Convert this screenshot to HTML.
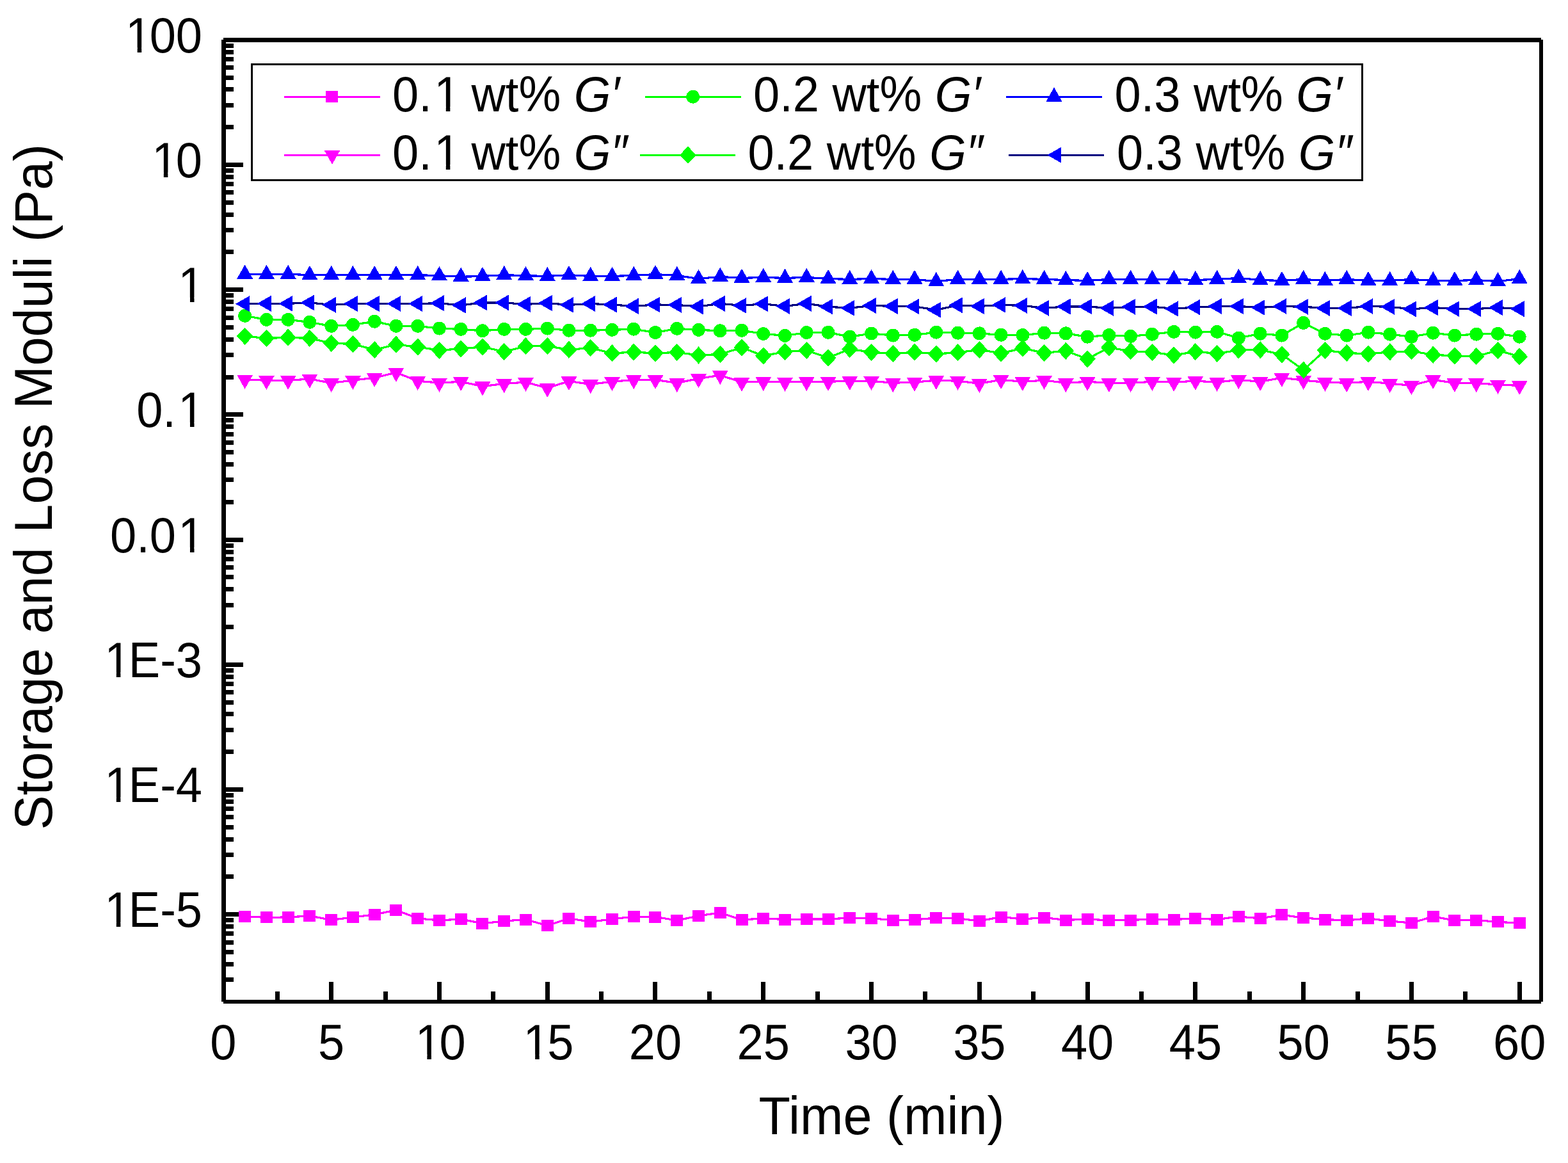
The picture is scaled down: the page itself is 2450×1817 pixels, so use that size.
<!DOCTYPE html>
<html><head><meta charset="utf-8"><title>Storage and Loss Moduli vs Time</title>
<style>html,body{margin:0;padding:0;background:#fff;}svg{display:block;}</style>
</head><body>
<svg width="2450" height="1817" viewBox="0 0 2450 1817">
<rect width="2450" height="1817" fill="#ffffff"/>
<g fill="#000" shape-rendering="crispEdges">
<rect x="346" y="62" width="7" height="1503"/>
<rect x="2405" y="62" width="6" height="1503"/>
<rect x="349" y="59" width="2059" height="7"/>
<rect x="349" y="1562" width="2059" height="6"/>
<rect x="353" y="1527.27" width="12" height="7"/>
<rect x="353" y="1502.88" width="12" height="7"/>
<rect x="353" y="1483.96" width="12" height="7"/>
<rect x="353" y="1468.50" width="12" height="7"/>
<rect x="353" y="1455.44" width="12" height="7"/>
<rect x="353" y="1444.12" width="12" height="7"/>
<rect x="353" y="1434.13" width="12" height="7"/>
<rect x="353" y="1425.20" width="27" height="7"/>
<rect x="353" y="1366.44" width="12" height="7"/>
<rect x="353" y="1332.07" width="12" height="7"/>
<rect x="353" y="1307.68" width="12" height="7"/>
<rect x="353" y="1288.76" width="12" height="7"/>
<rect x="353" y="1273.30" width="12" height="7"/>
<rect x="353" y="1260.24" width="12" height="7"/>
<rect x="353" y="1248.92" width="12" height="7"/>
<rect x="353" y="1238.93" width="12" height="7"/>
<rect x="353" y="1230.00" width="27" height="7"/>
<rect x="353" y="1171.24" width="12" height="7"/>
<rect x="353" y="1136.87" width="12" height="7"/>
<rect x="353" y="1112.48" width="12" height="7"/>
<rect x="353" y="1093.56" width="12" height="7"/>
<rect x="353" y="1078.10" width="12" height="7"/>
<rect x="353" y="1065.04" width="12" height="7"/>
<rect x="353" y="1053.72" width="12" height="7"/>
<rect x="353" y="1043.73" width="12" height="7"/>
<rect x="353" y="1034.80" width="27" height="7"/>
<rect x="353" y="976.04" width="12" height="7"/>
<rect x="353" y="941.67" width="12" height="7"/>
<rect x="353" y="917.28" width="12" height="7"/>
<rect x="353" y="898.36" width="12" height="7"/>
<rect x="353" y="882.90" width="12" height="7"/>
<rect x="353" y="869.84" width="12" height="7"/>
<rect x="353" y="858.52" width="12" height="7"/>
<rect x="353" y="848.53" width="12" height="7"/>
<rect x="353" y="839.60" width="27" height="7"/>
<rect x="353" y="780.84" width="12" height="7"/>
<rect x="353" y="746.47" width="12" height="7"/>
<rect x="353" y="722.08" width="12" height="7"/>
<rect x="353" y="703.16" width="12" height="7"/>
<rect x="353" y="687.70" width="12" height="7"/>
<rect x="353" y="674.64" width="12" height="7"/>
<rect x="353" y="663.32" width="12" height="7"/>
<rect x="353" y="653.33" width="12" height="7"/>
<rect x="353" y="644.40" width="27" height="7"/>
<rect x="353" y="585.64" width="12" height="7"/>
<rect x="353" y="551.27" width="12" height="7"/>
<rect x="353" y="526.88" width="12" height="7"/>
<rect x="353" y="507.96" width="12" height="7"/>
<rect x="353" y="492.50" width="12" height="7"/>
<rect x="353" y="479.44" width="12" height="7"/>
<rect x="353" y="468.12" width="12" height="7"/>
<rect x="353" y="458.13" width="12" height="7"/>
<rect x="353" y="449.20" width="27" height="7"/>
<rect x="353" y="390.44" width="12" height="7"/>
<rect x="353" y="356.07" width="12" height="7"/>
<rect x="353" y="331.68" width="12" height="7"/>
<rect x="353" y="312.76" width="12" height="7"/>
<rect x="353" y="297.30" width="12" height="7"/>
<rect x="353" y="284.24" width="12" height="7"/>
<rect x="353" y="272.92" width="12" height="7"/>
<rect x="353" y="262.93" width="12" height="7"/>
<rect x="353" y="254.00" width="27" height="7"/>
<rect x="353" y="195.24" width="12" height="7"/>
<rect x="353" y="160.87" width="12" height="7"/>
<rect x="353" y="136.48" width="12" height="7"/>
<rect x="353" y="117.56" width="12" height="7"/>
<rect x="353" y="102.10" width="12" height="7"/>
<rect x="353" y="89.04" width="12" height="7"/>
<rect x="353" y="77.72" width="12" height="7"/>
<rect x="353" y="67.73" width="12" height="7"/>
<rect x="353" y="58.80" width="27" height="7"/>
<rect x="429.78" y="1549" width="7" height="13"/>
<rect x="514.16" y="1534" width="7" height="28"/>
<rect x="598.55" y="1549" width="7" height="13"/>
<rect x="682.94" y="1534" width="7" height="28"/>
<rect x="767.33" y="1549" width="7" height="13"/>
<rect x="851.72" y="1534" width="7" height="28"/>
<rect x="936.10" y="1549" width="7" height="13"/>
<rect x="1020.49" y="1534" width="7" height="28"/>
<rect x="1104.88" y="1549" width="7" height="13"/>
<rect x="1189.27" y="1534" width="7" height="28"/>
<rect x="1273.66" y="1549" width="7" height="13"/>
<rect x="1358.05" y="1534" width="7" height="28"/>
<rect x="1442.43" y="1549" width="7" height="13"/>
<rect x="1526.82" y="1534" width="7" height="28"/>
<rect x="1611.21" y="1549" width="7" height="13"/>
<rect x="1695.60" y="1534" width="7" height="28"/>
<rect x="1779.99" y="1549" width="7" height="13"/>
<rect x="1864.38" y="1534" width="7" height="28"/>
<rect x="1948.76" y="1549" width="7" height="13"/>
<rect x="2033.15" y="1534" width="7" height="28"/>
<rect x="2117.54" y="1549" width="7" height="13"/>
<rect x="2201.93" y="1534" width="7" height="28"/>
<rect x="2286.32" y="1549" width="7" height="13"/>
<rect x="2370.70" y="1534" width="7" height="28"/>
</g>
<g shape-rendering="crispEdges">
<polyline points="382.64,1432.00 416.40,1433.30 450.15,1433.00 483.91,1430.90 517.66,1437.30 551.42,1433.00 585.17,1428.90 618.93,1421.80 652.68,1434.80 686.44,1438.00 720.20,1436.00 753.95,1442.80 787.71,1439.00 821.46,1436.50 855.22,1446.10 888.97,1434.90 922.73,1440.10 956.48,1436.00 990.24,1432.00 1023.99,1432.50 1057.75,1438.00 1091.50,1430.90 1125.26,1425.90 1159.01,1437.00 1192.77,1434.90 1226.52,1436.50 1260.28,1436.00 1294.04,1436.00 1327.79,1434.00 1361.55,1434.90 1395.30,1437.50 1429.06,1437.00 1462.81,1434.00 1496.57,1434.90 1530.32,1439.00 1564.08,1432.50 1597.83,1436.00 1631.59,1433.50 1665.34,1437.50 1699.10,1436.00 1732.85,1438.00 1766.61,1437.50 1800.36,1436.00 1834.12,1436.50 1867.88,1434.90 1901.63,1436.50 1935.39,1432.00 1969.14,1434.90 2002.90,1429.40 2036.65,1434.00 2070.41,1436.50 2104.16,1438.00 2137.92,1434.90 2171.67,1439.00 2205.43,1442.00 2239.18,1432.00 2272.94,1438.00 2306.69,1437.50 2340.45,1440.40 2374.20,1442.00" fill="none" stroke="#ff00ff" stroke-width="3.2" stroke-linejoin="miter"/>
<rect x="373.14" y="1423.00" width="19" height="18" fill="#ff00ff"/>
<rect x="406.90" y="1424.30" width="19" height="18" fill="#ff00ff"/>
<rect x="440.65" y="1424.00" width="19" height="18" fill="#ff00ff"/>
<rect x="474.41" y="1421.90" width="19" height="18" fill="#ff00ff"/>
<rect x="508.16" y="1428.30" width="19" height="18" fill="#ff00ff"/>
<rect x="541.92" y="1424.00" width="19" height="18" fill="#ff00ff"/>
<rect x="575.67" y="1419.90" width="19" height="18" fill="#ff00ff"/>
<rect x="609.43" y="1412.80" width="19" height="18" fill="#ff00ff"/>
<rect x="643.18" y="1425.80" width="19" height="18" fill="#ff00ff"/>
<rect x="676.94" y="1429.00" width="19" height="18" fill="#ff00ff"/>
<rect x="710.70" y="1427.00" width="19" height="18" fill="#ff00ff"/>
<rect x="744.45" y="1433.80" width="19" height="18" fill="#ff00ff"/>
<rect x="778.21" y="1430.00" width="19" height="18" fill="#ff00ff"/>
<rect x="811.96" y="1427.50" width="19" height="18" fill="#ff00ff"/>
<rect x="845.72" y="1437.10" width="19" height="18" fill="#ff00ff"/>
<rect x="879.47" y="1425.90" width="19" height="18" fill="#ff00ff"/>
<rect x="913.23" y="1431.10" width="19" height="18" fill="#ff00ff"/>
<rect x="946.98" y="1427.00" width="19" height="18" fill="#ff00ff"/>
<rect x="980.74" y="1423.00" width="19" height="18" fill="#ff00ff"/>
<rect x="1014.49" y="1423.50" width="19" height="18" fill="#ff00ff"/>
<rect x="1048.25" y="1429.00" width="19" height="18" fill="#ff00ff"/>
<rect x="1082.00" y="1421.90" width="19" height="18" fill="#ff00ff"/>
<rect x="1115.76" y="1416.90" width="19" height="18" fill="#ff00ff"/>
<rect x="1149.51" y="1428.00" width="19" height="18" fill="#ff00ff"/>
<rect x="1183.27" y="1425.90" width="19" height="18" fill="#ff00ff"/>
<rect x="1217.02" y="1427.50" width="19" height="18" fill="#ff00ff"/>
<rect x="1250.78" y="1427.00" width="19" height="18" fill="#ff00ff"/>
<rect x="1284.54" y="1427.00" width="19" height="18" fill="#ff00ff"/>
<rect x="1318.29" y="1425.00" width="19" height="18" fill="#ff00ff"/>
<rect x="1352.05" y="1425.90" width="19" height="18" fill="#ff00ff"/>
<rect x="1385.80" y="1428.50" width="19" height="18" fill="#ff00ff"/>
<rect x="1419.56" y="1428.00" width="19" height="18" fill="#ff00ff"/>
<rect x="1453.31" y="1425.00" width="19" height="18" fill="#ff00ff"/>
<rect x="1487.07" y="1425.90" width="19" height="18" fill="#ff00ff"/>
<rect x="1520.82" y="1430.00" width="19" height="18" fill="#ff00ff"/>
<rect x="1554.58" y="1423.50" width="19" height="18" fill="#ff00ff"/>
<rect x="1588.33" y="1427.00" width="19" height="18" fill="#ff00ff"/>
<rect x="1622.09" y="1424.50" width="19" height="18" fill="#ff00ff"/>
<rect x="1655.84" y="1428.50" width="19" height="18" fill="#ff00ff"/>
<rect x="1689.60" y="1427.00" width="19" height="18" fill="#ff00ff"/>
<rect x="1723.35" y="1429.00" width="19" height="18" fill="#ff00ff"/>
<rect x="1757.11" y="1428.50" width="19" height="18" fill="#ff00ff"/>
<rect x="1790.86" y="1427.00" width="19" height="18" fill="#ff00ff"/>
<rect x="1824.62" y="1427.50" width="19" height="18" fill="#ff00ff"/>
<rect x="1858.38" y="1425.90" width="19" height="18" fill="#ff00ff"/>
<rect x="1892.13" y="1427.50" width="19" height="18" fill="#ff00ff"/>
<rect x="1925.89" y="1423.00" width="19" height="18" fill="#ff00ff"/>
<rect x="1959.64" y="1425.90" width="19" height="18" fill="#ff00ff"/>
<rect x="1993.40" y="1420.40" width="19" height="18" fill="#ff00ff"/>
<rect x="2027.15" y="1425.00" width="19" height="18" fill="#ff00ff"/>
<rect x="2060.91" y="1427.50" width="19" height="18" fill="#ff00ff"/>
<rect x="2094.66" y="1429.00" width="19" height="18" fill="#ff00ff"/>
<rect x="2128.42" y="1425.90" width="19" height="18" fill="#ff00ff"/>
<rect x="2162.17" y="1430.00" width="19" height="18" fill="#ff00ff"/>
<rect x="2195.93" y="1433.00" width="19" height="18" fill="#ff00ff"/>
<rect x="2229.68" y="1423.00" width="19" height="18" fill="#ff00ff"/>
<rect x="2263.44" y="1429.00" width="19" height="18" fill="#ff00ff"/>
<rect x="2297.19" y="1428.50" width="19" height="18" fill="#ff00ff"/>
<rect x="2330.95" y="1431.40" width="19" height="18" fill="#ff00ff"/>
<rect x="2364.70" y="1433.00" width="19" height="18" fill="#ff00ff"/>
<polyline points="382.64,593.10 416.40,594.20 450.15,594.20 483.91,592.10 517.66,598.30 551.42,594.20 585.17,590.20 618.93,582.10 652.68,595.20 686.44,598.10 720.20,596.30 753.95,603.60 787.71,599.50 821.46,597.10 855.22,606.30 888.97,595.50 922.73,600.40 956.48,596.30 990.24,593.40 1023.99,593.40 1057.75,598.30 1091.50,591.50 1125.26,586.30 1159.01,597.10 1192.77,596.30 1226.52,597.10 1260.28,596.30 1294.04,596.30 1327.79,595.20 1361.55,595.20 1395.30,598.30 1429.06,597.10 1462.81,594.20 1496.57,595.20 1530.32,599.20 1564.08,593.40 1597.83,596.30 1631.59,594.20 1665.34,598.30 1699.10,596.30 1732.85,598.30 1766.61,598.30 1800.36,596.30 1834.12,597.10 1867.88,595.20 1901.63,597.10 1935.39,593.40 1969.14,596.30 2002.90,590.20 2036.65,594.20 2070.41,597.10 2104.16,598.30 2137.92,596.30 2171.67,599.20 2205.43,602.30 2239.18,593.40 2272.94,598.30 2306.69,598.30 2340.45,601.20 2374.20,602.30" fill="none" stroke="#ff00ff" stroke-width="3.2" stroke-linejoin="miter"/>
<path d="M370.14 585.77L395.14 585.77L382.64 607.77Z" fill="#ff00ff"/>
<path d="M403.90 586.87L428.90 586.87L416.40 608.87Z" fill="#ff00ff"/>
<path d="M437.65 586.87L462.65 586.87L450.15 608.87Z" fill="#ff00ff"/>
<path d="M471.41 584.77L496.41 584.77L483.91 606.77Z" fill="#ff00ff"/>
<path d="M505.16 590.97L530.16 590.97L517.66 612.97Z" fill="#ff00ff"/>
<path d="M538.92 586.87L563.92 586.87L551.42 608.87Z" fill="#ff00ff"/>
<path d="M572.67 582.87L597.67 582.87L585.17 604.87Z" fill="#ff00ff"/>
<path d="M606.43 574.77L631.43 574.77L618.93 596.77Z" fill="#ff00ff"/>
<path d="M640.18 587.87L665.18 587.87L652.68 609.87Z" fill="#ff00ff"/>
<path d="M673.94 590.77L698.94 590.77L686.44 612.77Z" fill="#ff00ff"/>
<path d="M707.70 588.97L732.70 588.97L720.20 610.97Z" fill="#ff00ff"/>
<path d="M741.45 596.27L766.45 596.27L753.95 618.27Z" fill="#ff00ff"/>
<path d="M775.21 592.17L800.21 592.17L787.71 614.17Z" fill="#ff00ff"/>
<path d="M808.96 589.77L833.96 589.77L821.46 611.77Z" fill="#ff00ff"/>
<path d="M842.72 598.97L867.72 598.97L855.22 620.97Z" fill="#ff00ff"/>
<path d="M876.47 588.17L901.47 588.17L888.97 610.17Z" fill="#ff00ff"/>
<path d="M910.23 593.07L935.23 593.07L922.73 615.07Z" fill="#ff00ff"/>
<path d="M943.98 588.97L968.98 588.97L956.48 610.97Z" fill="#ff00ff"/>
<path d="M977.74 586.07L1002.74 586.07L990.24 608.07Z" fill="#ff00ff"/>
<path d="M1011.49 586.07L1036.49 586.07L1023.99 608.07Z" fill="#ff00ff"/>
<path d="M1045.25 590.97L1070.25 590.97L1057.75 612.97Z" fill="#ff00ff"/>
<path d="M1079.00 584.17L1104.00 584.17L1091.50 606.17Z" fill="#ff00ff"/>
<path d="M1112.76 578.97L1137.76 578.97L1125.26 600.97Z" fill="#ff00ff"/>
<path d="M1146.51 589.77L1171.51 589.77L1159.01 611.77Z" fill="#ff00ff"/>
<path d="M1180.27 588.97L1205.27 588.97L1192.77 610.97Z" fill="#ff00ff"/>
<path d="M1214.02 589.77L1239.02 589.77L1226.52 611.77Z" fill="#ff00ff"/>
<path d="M1247.78 588.97L1272.78 588.97L1260.28 610.97Z" fill="#ff00ff"/>
<path d="M1281.54 588.97L1306.54 588.97L1294.04 610.97Z" fill="#ff00ff"/>
<path d="M1315.29 587.87L1340.29 587.87L1327.79 609.87Z" fill="#ff00ff"/>
<path d="M1349.05 587.87L1374.05 587.87L1361.55 609.87Z" fill="#ff00ff"/>
<path d="M1382.80 590.97L1407.80 590.97L1395.30 612.97Z" fill="#ff00ff"/>
<path d="M1416.56 589.77L1441.56 589.77L1429.06 611.77Z" fill="#ff00ff"/>
<path d="M1450.31 586.87L1475.31 586.87L1462.81 608.87Z" fill="#ff00ff"/>
<path d="M1484.07 587.87L1509.07 587.87L1496.57 609.87Z" fill="#ff00ff"/>
<path d="M1517.82 591.87L1542.82 591.87L1530.32 613.87Z" fill="#ff00ff"/>
<path d="M1551.58 586.07L1576.58 586.07L1564.08 608.07Z" fill="#ff00ff"/>
<path d="M1585.33 588.97L1610.33 588.97L1597.83 610.97Z" fill="#ff00ff"/>
<path d="M1619.09 586.87L1644.09 586.87L1631.59 608.87Z" fill="#ff00ff"/>
<path d="M1652.84 590.97L1677.84 590.97L1665.34 612.97Z" fill="#ff00ff"/>
<path d="M1686.60 588.97L1711.60 588.97L1699.10 610.97Z" fill="#ff00ff"/>
<path d="M1720.35 590.97L1745.35 590.97L1732.85 612.97Z" fill="#ff00ff"/>
<path d="M1754.11 590.97L1779.11 590.97L1766.61 612.97Z" fill="#ff00ff"/>
<path d="M1787.86 588.97L1812.86 588.97L1800.36 610.97Z" fill="#ff00ff"/>
<path d="M1821.62 589.77L1846.62 589.77L1834.12 611.77Z" fill="#ff00ff"/>
<path d="M1855.38 587.87L1880.38 587.87L1867.88 609.87Z" fill="#ff00ff"/>
<path d="M1889.13 589.77L1914.13 589.77L1901.63 611.77Z" fill="#ff00ff"/>
<path d="M1922.89 586.07L1947.89 586.07L1935.39 608.07Z" fill="#ff00ff"/>
<path d="M1956.64 588.97L1981.64 588.97L1969.14 610.97Z" fill="#ff00ff"/>
<path d="M1990.40 582.87L2015.40 582.87L2002.90 604.87Z" fill="#ff00ff"/>
<path d="M2024.15 586.87L2049.15 586.87L2036.65 608.87Z" fill="#ff00ff"/>
<path d="M2057.91 589.77L2082.91 589.77L2070.41 611.77Z" fill="#ff00ff"/>
<path d="M2091.66 590.97L2116.66 590.97L2104.16 612.97Z" fill="#ff00ff"/>
<path d="M2125.42 588.97L2150.42 588.97L2137.92 610.97Z" fill="#ff00ff"/>
<path d="M2159.17 591.87L2184.17 591.87L2171.67 613.87Z" fill="#ff00ff"/>
<path d="M2192.93 594.97L2217.93 594.97L2205.43 616.97Z" fill="#ff00ff"/>
<path d="M2226.68 586.07L2251.68 586.07L2239.18 608.07Z" fill="#ff00ff"/>
<path d="M2260.44 590.97L2285.44 590.97L2272.94 612.97Z" fill="#ff00ff"/>
<path d="M2294.19 590.97L2319.19 590.97L2306.69 612.97Z" fill="#ff00ff"/>
<path d="M2327.95 593.87L2352.95 593.87L2340.45 615.87Z" fill="#ff00ff"/>
<path d="M2361.70 594.97L2386.70 594.97L2374.20 616.97Z" fill="#ff00ff"/>
<polyline points="382.64,493.40 416.40,499.40 450.15,499.40 483.91,503.40 517.66,509.40 551.42,507.40 585.17,502.30 618.93,509.40 652.68,509.40 686.44,513.10 720.20,514.40 753.95,516.80 787.71,514.40 821.46,514.40 855.22,513.10 888.97,516.30 922.73,516.30 956.48,515.40 990.24,514.20 1023.99,519.60 1057.75,513.40 1091.50,515.40 1125.26,516.80 1159.01,516.30 1192.77,521.50 1226.52,524.40 1260.28,519.60 1294.04,519.40 1327.79,526.20 1361.55,521.00 1395.30,524.10 1429.06,523.40 1462.81,519.20 1496.57,520.20 1530.32,520.90 1564.08,523.30 1597.83,523.60 1631.59,520.20 1665.34,520.90 1699.10,526.20 1732.85,523.60 1766.61,525.40 1800.36,522.20 1834.12,518.40 1867.88,519.20 1901.63,518.40 1935.39,528.00 1969.14,521.30 2002.90,524.10 2036.65,504.40 2070.41,521.30 2104.16,524.10 2137.92,519.20 2171.67,522.20 2205.43,526.20 2239.18,520.20 2272.94,524.10 2306.69,522.20 2340.45,521.30 2374.20,526.20" fill="none" stroke="#00ff00" stroke-width="3.2" stroke-linejoin="miter"/>
<circle cx="382.64" cy="493.40" r="10.5" fill="#00ff00"/>
<circle cx="416.40" cy="499.40" r="10.5" fill="#00ff00"/>
<circle cx="450.15" cy="499.40" r="10.5" fill="#00ff00"/>
<circle cx="483.91" cy="503.40" r="10.5" fill="#00ff00"/>
<circle cx="517.66" cy="509.40" r="10.5" fill="#00ff00"/>
<circle cx="551.42" cy="507.40" r="10.5" fill="#00ff00"/>
<circle cx="585.17" cy="502.30" r="10.5" fill="#00ff00"/>
<circle cx="618.93" cy="509.40" r="10.5" fill="#00ff00"/>
<circle cx="652.68" cy="509.40" r="10.5" fill="#00ff00"/>
<circle cx="686.44" cy="513.10" r="10.5" fill="#00ff00"/>
<circle cx="720.20" cy="514.40" r="10.5" fill="#00ff00"/>
<circle cx="753.95" cy="516.80" r="10.5" fill="#00ff00"/>
<circle cx="787.71" cy="514.40" r="10.5" fill="#00ff00"/>
<circle cx="821.46" cy="514.40" r="10.5" fill="#00ff00"/>
<circle cx="855.22" cy="513.10" r="10.5" fill="#00ff00"/>
<circle cx="888.97" cy="516.30" r="10.5" fill="#00ff00"/>
<circle cx="922.73" cy="516.30" r="10.5" fill="#00ff00"/>
<circle cx="956.48" cy="515.40" r="10.5" fill="#00ff00"/>
<circle cx="990.24" cy="514.20" r="10.5" fill="#00ff00"/>
<circle cx="1023.99" cy="519.60" r="10.5" fill="#00ff00"/>
<circle cx="1057.75" cy="513.40" r="10.5" fill="#00ff00"/>
<circle cx="1091.50" cy="515.40" r="10.5" fill="#00ff00"/>
<circle cx="1125.26" cy="516.80" r="10.5" fill="#00ff00"/>
<circle cx="1159.01" cy="516.30" r="10.5" fill="#00ff00"/>
<circle cx="1192.77" cy="521.50" r="10.5" fill="#00ff00"/>
<circle cx="1226.52" cy="524.40" r="10.5" fill="#00ff00"/>
<circle cx="1260.28" cy="519.60" r="10.5" fill="#00ff00"/>
<circle cx="1294.04" cy="519.40" r="10.5" fill="#00ff00"/>
<circle cx="1327.79" cy="526.20" r="10.5" fill="#00ff00"/>
<circle cx="1361.55" cy="521.00" r="10.5" fill="#00ff00"/>
<circle cx="1395.30" cy="524.10" r="10.5" fill="#00ff00"/>
<circle cx="1429.06" cy="523.40" r="10.5" fill="#00ff00"/>
<circle cx="1462.81" cy="519.20" r="10.5" fill="#00ff00"/>
<circle cx="1496.57" cy="520.20" r="10.5" fill="#00ff00"/>
<circle cx="1530.32" cy="520.90" r="10.5" fill="#00ff00"/>
<circle cx="1564.08" cy="523.30" r="10.5" fill="#00ff00"/>
<circle cx="1597.83" cy="523.60" r="10.5" fill="#00ff00"/>
<circle cx="1631.59" cy="520.20" r="10.5" fill="#00ff00"/>
<circle cx="1665.34" cy="520.90" r="10.5" fill="#00ff00"/>
<circle cx="1699.10" cy="526.20" r="10.5" fill="#00ff00"/>
<circle cx="1732.85" cy="523.60" r="10.5" fill="#00ff00"/>
<circle cx="1766.61" cy="525.40" r="10.5" fill="#00ff00"/>
<circle cx="1800.36" cy="522.20" r="10.5" fill="#00ff00"/>
<circle cx="1834.12" cy="518.40" r="10.5" fill="#00ff00"/>
<circle cx="1867.88" cy="519.20" r="10.5" fill="#00ff00"/>
<circle cx="1901.63" cy="518.40" r="10.5" fill="#00ff00"/>
<circle cx="1935.39" cy="528.00" r="10.5" fill="#00ff00"/>
<circle cx="1969.14" cy="521.30" r="10.5" fill="#00ff00"/>
<circle cx="2002.90" cy="524.10" r="10.5" fill="#00ff00"/>
<circle cx="2036.65" cy="504.40" r="10.5" fill="#00ff00"/>
<circle cx="2070.41" cy="521.30" r="10.5" fill="#00ff00"/>
<circle cx="2104.16" cy="524.10" r="10.5" fill="#00ff00"/>
<circle cx="2137.92" cy="519.20" r="10.5" fill="#00ff00"/>
<circle cx="2171.67" cy="522.20" r="10.5" fill="#00ff00"/>
<circle cx="2205.43" cy="526.20" r="10.5" fill="#00ff00"/>
<circle cx="2239.18" cy="520.20" r="10.5" fill="#00ff00"/>
<circle cx="2272.94" cy="524.10" r="10.5" fill="#00ff00"/>
<circle cx="2306.69" cy="522.20" r="10.5" fill="#00ff00"/>
<circle cx="2340.45" cy="521.30" r="10.5" fill="#00ff00"/>
<circle cx="2374.20" cy="526.20" r="10.5" fill="#00ff00"/>
<polyline points="382.64,525.20 416.40,528.50 450.15,527.30 483.91,528.50 517.66,536.20 551.42,537.50 585.17,546.50 618.93,538.30 652.68,542.00 686.44,547.20 720.20,544.90 753.95,541.90 787.71,549.50 821.46,540.90 855.22,540.60 888.97,546.40 922.73,543.50 956.48,551.90 990.24,550.10 1023.99,551.90 1057.75,550.40 1091.50,555.00 1125.26,553.50 1159.01,543.00 1192.77,555.90 1226.52,549.50 1260.28,547.40 1294.04,559.00 1327.79,545.40 1361.55,550.30 1395.30,552.40 1429.06,550.30 1462.81,552.90 1496.57,550.80 1530.32,546.40 1564.08,551.90 1597.83,544.10 1631.59,551.40 1665.34,548.20 1699.10,560.80 1732.85,543.00 1766.61,548.80 1800.36,550.40 1834.12,554.80 1867.88,549.50 1901.63,552.20 1935.39,547.00 1969.14,546.60 2002.90,553.80 2036.65,578.10 2070.41,547.40 2104.16,551.40 2137.92,552.90 2171.67,549.90 2205.43,548.70 2239.18,554.30 2272.94,555.90 2306.69,556.70 2340.45,547.40 2374.20,557.10" fill="none" stroke="#00ff00" stroke-width="3.2" stroke-linejoin="miter"/>
<path d="M382.64 511.60L395.44 525.20L382.64 538.80L369.84 525.20Z" fill="#00ff00"/>
<path d="M416.40 514.90L429.20 528.50L416.40 542.10L403.60 528.50Z" fill="#00ff00"/>
<path d="M450.15 513.70L462.95 527.30L450.15 540.90L437.35 527.30Z" fill="#00ff00"/>
<path d="M483.91 514.90L496.71 528.50L483.91 542.10L471.11 528.50Z" fill="#00ff00"/>
<path d="M517.66 522.60L530.46 536.20L517.66 549.80L504.86 536.20Z" fill="#00ff00"/>
<path d="M551.42 523.90L564.22 537.50L551.42 551.10L538.62 537.50Z" fill="#00ff00"/>
<path d="M585.17 532.90L597.97 546.50L585.17 560.10L572.37 546.50Z" fill="#00ff00"/>
<path d="M618.93 524.70L631.73 538.30L618.93 551.90L606.13 538.30Z" fill="#00ff00"/>
<path d="M652.68 528.40L665.48 542.00L652.68 555.60L639.88 542.00Z" fill="#00ff00"/>
<path d="M686.44 533.60L699.24 547.20L686.44 560.80L673.64 547.20Z" fill="#00ff00"/>
<path d="M720.20 531.30L733.00 544.90L720.20 558.50L707.40 544.90Z" fill="#00ff00"/>
<path d="M753.95 528.30L766.75 541.90L753.95 555.50L741.15 541.90Z" fill="#00ff00"/>
<path d="M787.71 535.90L800.51 549.50L787.71 563.10L774.91 549.50Z" fill="#00ff00"/>
<path d="M821.46 527.30L834.26 540.90L821.46 554.50L808.66 540.90Z" fill="#00ff00"/>
<path d="M855.22 527.00L868.02 540.60L855.22 554.20L842.42 540.60Z" fill="#00ff00"/>
<path d="M888.97 532.80L901.77 546.40L888.97 560.00L876.17 546.40Z" fill="#00ff00"/>
<path d="M922.73 529.90L935.53 543.50L922.73 557.10L909.93 543.50Z" fill="#00ff00"/>
<path d="M956.48 538.30L969.28 551.90L956.48 565.50L943.68 551.90Z" fill="#00ff00"/>
<path d="M990.24 536.50L1003.04 550.10L990.24 563.70L977.44 550.10Z" fill="#00ff00"/>
<path d="M1023.99 538.30L1036.79 551.90L1023.99 565.50L1011.19 551.90Z" fill="#00ff00"/>
<path d="M1057.75 536.80L1070.55 550.40L1057.75 564.00L1044.95 550.40Z" fill="#00ff00"/>
<path d="M1091.50 541.40L1104.30 555.00L1091.50 568.60L1078.70 555.00Z" fill="#00ff00"/>
<path d="M1125.26 539.90L1138.06 553.50L1125.26 567.10L1112.46 553.50Z" fill="#00ff00"/>
<path d="M1159.01 529.40L1171.81 543.00L1159.01 556.60L1146.21 543.00Z" fill="#00ff00"/>
<path d="M1192.77 542.30L1205.57 555.90L1192.77 569.50L1179.97 555.90Z" fill="#00ff00"/>
<path d="M1226.52 535.90L1239.32 549.50L1226.52 563.10L1213.72 549.50Z" fill="#00ff00"/>
<path d="M1260.28 533.80L1273.08 547.40L1260.28 561.00L1247.48 547.40Z" fill="#00ff00"/>
<path d="M1294.04 545.40L1306.84 559.00L1294.04 572.60L1281.24 559.00Z" fill="#00ff00"/>
<path d="M1327.79 531.80L1340.59 545.40L1327.79 559.00L1314.99 545.40Z" fill="#00ff00"/>
<path d="M1361.55 536.70L1374.35 550.30L1361.55 563.90L1348.75 550.30Z" fill="#00ff00"/>
<path d="M1395.30 538.80L1408.10 552.40L1395.30 566.00L1382.50 552.40Z" fill="#00ff00"/>
<path d="M1429.06 536.70L1441.86 550.30L1429.06 563.90L1416.26 550.30Z" fill="#00ff00"/>
<path d="M1462.81 539.30L1475.61 552.90L1462.81 566.50L1450.01 552.90Z" fill="#00ff00"/>
<path d="M1496.57 537.20L1509.37 550.80L1496.57 564.40L1483.77 550.80Z" fill="#00ff00"/>
<path d="M1530.32 532.80L1543.12 546.40L1530.32 560.00L1517.52 546.40Z" fill="#00ff00"/>
<path d="M1564.08 538.30L1576.88 551.90L1564.08 565.50L1551.28 551.90Z" fill="#00ff00"/>
<path d="M1597.83 530.50L1610.63 544.10L1597.83 557.70L1585.03 544.10Z" fill="#00ff00"/>
<path d="M1631.59 537.80L1644.39 551.40L1631.59 565.00L1618.79 551.40Z" fill="#00ff00"/>
<path d="M1665.34 534.60L1678.14 548.20L1665.34 561.80L1652.54 548.20Z" fill="#00ff00"/>
<path d="M1699.10 547.20L1711.90 560.80L1699.10 574.40L1686.30 560.80Z" fill="#00ff00"/>
<path d="M1732.85 529.40L1745.65 543.00L1732.85 556.60L1720.05 543.00Z" fill="#00ff00"/>
<path d="M1766.61 535.20L1779.41 548.80L1766.61 562.40L1753.81 548.80Z" fill="#00ff00"/>
<path d="M1800.36 536.80L1813.16 550.40L1800.36 564.00L1787.56 550.40Z" fill="#00ff00"/>
<path d="M1834.12 541.20L1846.92 554.80L1834.12 568.40L1821.32 554.80Z" fill="#00ff00"/>
<path d="M1867.88 535.90L1880.68 549.50L1867.88 563.10L1855.08 549.50Z" fill="#00ff00"/>
<path d="M1901.63 538.60L1914.43 552.20L1901.63 565.80L1888.83 552.20Z" fill="#00ff00"/>
<path d="M1935.39 533.40L1948.19 547.00L1935.39 560.60L1922.59 547.00Z" fill="#00ff00"/>
<path d="M1969.14 533.00L1981.94 546.60L1969.14 560.20L1956.34 546.60Z" fill="#00ff00"/>
<path d="M2002.90 540.20L2015.70 553.80L2002.90 567.40L1990.10 553.80Z" fill="#00ff00"/>
<path d="M2036.65 564.50L2049.45 578.10L2036.65 591.70L2023.85 578.10Z" fill="#00ff00"/>
<path d="M2070.41 533.80L2083.21 547.40L2070.41 561.00L2057.61 547.40Z" fill="#00ff00"/>
<path d="M2104.16 537.80L2116.96 551.40L2104.16 565.00L2091.36 551.40Z" fill="#00ff00"/>
<path d="M2137.92 539.30L2150.72 552.90L2137.92 566.50L2125.12 552.90Z" fill="#00ff00"/>
<path d="M2171.67 536.30L2184.47 549.90L2171.67 563.50L2158.87 549.90Z" fill="#00ff00"/>
<path d="M2205.43 535.10L2218.23 548.70L2205.43 562.30L2192.63 548.70Z" fill="#00ff00"/>
<path d="M2239.18 540.70L2251.98 554.30L2239.18 567.90L2226.38 554.30Z" fill="#00ff00"/>
<path d="M2272.94 542.30L2285.74 555.90L2272.94 569.50L2260.14 555.90Z" fill="#00ff00"/>
<path d="M2306.69 543.10L2319.49 556.70L2306.69 570.30L2293.89 556.70Z" fill="#00ff00"/>
<path d="M2340.45 533.80L2353.25 547.40L2340.45 561.00L2327.65 547.40Z" fill="#00ff00"/>
<path d="M2374.20 543.50L2387.01 557.10L2374.20 570.70L2361.40 557.10Z" fill="#00ff00"/>
<polyline points="382.64,428.20 416.40,428.40 450.15,428.40 483.91,429.60 517.66,429.60 551.42,429.60 585.17,429.60 618.93,429.60 652.68,429.60 686.44,430.70 720.20,432.30 753.95,431.50 787.71,429.60 821.46,430.70 855.22,431.50 888.97,429.60 922.73,431.50 956.48,431.50 990.24,430.40 1023.99,428.60 1057.75,430.40 1091.50,435.50 1125.26,432.30 1159.01,434.40 1192.77,433.40 1226.52,434.40 1260.28,433.40 1294.04,435.50 1327.79,436.40 1361.55,435.50 1395.30,436.40 1429.06,436.40 1462.81,439.60 1496.57,436.40 1530.32,436.40 1564.08,436.40 1597.83,435.50 1631.59,436.40 1665.34,437.50 1699.10,438.50 1732.85,436.40 1766.61,436.40 1800.36,436.40 1834.12,436.40 1867.88,437.50 1901.63,436.40 1935.39,434.40 1969.14,437.50 2002.90,438.50 2036.65,436.40 2070.41,438.50 2104.16,436.40 2137.92,438.50 2171.67,438.50 2205.43,436.40 2239.18,438.50 2272.94,438.50 2306.69,437.50 2340.45,439.60 2374.20,435.50" fill="none" stroke="#0000ff" stroke-width="3.2" stroke-linejoin="miter"/>
<path d="M382.64 413.53L395.14 435.53L370.14 435.53Z" fill="#0000ff"/>
<path d="M416.40 413.73L428.90 435.73L403.90 435.73Z" fill="#0000ff"/>
<path d="M450.15 413.73L462.65 435.73L437.65 435.73Z" fill="#0000ff"/>
<path d="M483.91 414.93L496.41 436.93L471.41 436.93Z" fill="#0000ff"/>
<path d="M517.66 414.93L530.16 436.93L505.16 436.93Z" fill="#0000ff"/>
<path d="M551.42 414.93L563.92 436.93L538.92 436.93Z" fill="#0000ff"/>
<path d="M585.17 414.93L597.67 436.93L572.67 436.93Z" fill="#0000ff"/>
<path d="M618.93 414.93L631.43 436.93L606.43 436.93Z" fill="#0000ff"/>
<path d="M652.68 414.93L665.18 436.93L640.18 436.93Z" fill="#0000ff"/>
<path d="M686.44 416.03L698.94 438.03L673.94 438.03Z" fill="#0000ff"/>
<path d="M720.20 417.63L732.70 439.63L707.70 439.63Z" fill="#0000ff"/>
<path d="M753.95 416.83L766.45 438.83L741.45 438.83Z" fill="#0000ff"/>
<path d="M787.71 414.93L800.21 436.93L775.21 436.93Z" fill="#0000ff"/>
<path d="M821.46 416.03L833.96 438.03L808.96 438.03Z" fill="#0000ff"/>
<path d="M855.22 416.83L867.72 438.83L842.72 438.83Z" fill="#0000ff"/>
<path d="M888.97 414.93L901.47 436.93L876.47 436.93Z" fill="#0000ff"/>
<path d="M922.73 416.83L935.23 438.83L910.23 438.83Z" fill="#0000ff"/>
<path d="M956.48 416.83L968.98 438.83L943.98 438.83Z" fill="#0000ff"/>
<path d="M990.24 415.73L1002.74 437.73L977.74 437.73Z" fill="#0000ff"/>
<path d="M1023.99 413.93L1036.49 435.93L1011.49 435.93Z" fill="#0000ff"/>
<path d="M1057.75 415.73L1070.25 437.73L1045.25 437.73Z" fill="#0000ff"/>
<path d="M1091.50 420.83L1104.00 442.83L1079.00 442.83Z" fill="#0000ff"/>
<path d="M1125.26 417.63L1137.76 439.63L1112.76 439.63Z" fill="#0000ff"/>
<path d="M1159.01 419.73L1171.51 441.73L1146.51 441.73Z" fill="#0000ff"/>
<path d="M1192.77 418.73L1205.27 440.73L1180.27 440.73Z" fill="#0000ff"/>
<path d="M1226.52 419.73L1239.02 441.73L1214.02 441.73Z" fill="#0000ff"/>
<path d="M1260.28 418.73L1272.78 440.73L1247.78 440.73Z" fill="#0000ff"/>
<path d="M1294.04 420.83L1306.54 442.83L1281.54 442.83Z" fill="#0000ff"/>
<path d="M1327.79 421.73L1340.29 443.73L1315.29 443.73Z" fill="#0000ff"/>
<path d="M1361.55 420.83L1374.05 442.83L1349.05 442.83Z" fill="#0000ff"/>
<path d="M1395.30 421.73L1407.80 443.73L1382.80 443.73Z" fill="#0000ff"/>
<path d="M1429.06 421.73L1441.56 443.73L1416.56 443.73Z" fill="#0000ff"/>
<path d="M1462.81 424.93L1475.31 446.93L1450.31 446.93Z" fill="#0000ff"/>
<path d="M1496.57 421.73L1509.07 443.73L1484.07 443.73Z" fill="#0000ff"/>
<path d="M1530.32 421.73L1542.82 443.73L1517.82 443.73Z" fill="#0000ff"/>
<path d="M1564.08 421.73L1576.58 443.73L1551.58 443.73Z" fill="#0000ff"/>
<path d="M1597.83 420.83L1610.33 442.83L1585.33 442.83Z" fill="#0000ff"/>
<path d="M1631.59 421.73L1644.09 443.73L1619.09 443.73Z" fill="#0000ff"/>
<path d="M1665.34 422.83L1677.84 444.83L1652.84 444.83Z" fill="#0000ff"/>
<path d="M1699.10 423.83L1711.60 445.83L1686.60 445.83Z" fill="#0000ff"/>
<path d="M1732.85 421.73L1745.35 443.73L1720.35 443.73Z" fill="#0000ff"/>
<path d="M1766.61 421.73L1779.11 443.73L1754.11 443.73Z" fill="#0000ff"/>
<path d="M1800.36 421.73L1812.86 443.73L1787.86 443.73Z" fill="#0000ff"/>
<path d="M1834.12 421.73L1846.62 443.73L1821.62 443.73Z" fill="#0000ff"/>
<path d="M1867.88 422.83L1880.38 444.83L1855.38 444.83Z" fill="#0000ff"/>
<path d="M1901.63 421.73L1914.13 443.73L1889.13 443.73Z" fill="#0000ff"/>
<path d="M1935.39 419.73L1947.89 441.73L1922.89 441.73Z" fill="#0000ff"/>
<path d="M1969.14 422.83L1981.64 444.83L1956.64 444.83Z" fill="#0000ff"/>
<path d="M2002.90 423.83L2015.40 445.83L1990.40 445.83Z" fill="#0000ff"/>
<path d="M2036.65 421.73L2049.15 443.73L2024.15 443.73Z" fill="#0000ff"/>
<path d="M2070.41 423.83L2082.91 445.83L2057.91 445.83Z" fill="#0000ff"/>
<path d="M2104.16 421.73L2116.66 443.73L2091.66 443.73Z" fill="#0000ff"/>
<path d="M2137.92 423.83L2150.42 445.83L2125.42 445.83Z" fill="#0000ff"/>
<path d="M2171.67 423.83L2184.17 445.83L2159.17 445.83Z" fill="#0000ff"/>
<path d="M2205.43 421.73L2217.93 443.73L2192.93 443.73Z" fill="#0000ff"/>
<path d="M2239.18 423.83L2251.68 445.83L2226.68 445.83Z" fill="#0000ff"/>
<path d="M2272.94 423.83L2285.44 445.83L2260.44 445.83Z" fill="#0000ff"/>
<path d="M2306.69 422.83L2319.19 444.83L2294.19 444.83Z" fill="#0000ff"/>
<path d="M2340.45 424.93L2352.95 446.93L2327.95 446.93Z" fill="#0000ff"/>
<path d="M2374.20 420.83L2386.70 442.83L2361.70 442.83Z" fill="#0000ff"/>
<polyline points="382.64,474.70 416.40,474.30 450.15,474.30 483.91,472.90 517.66,476.40 551.42,474.50 585.17,474.50 618.93,474.50 652.68,474.50 686.44,473.70 720.20,476.90 753.95,472.90 787.71,472.90 821.46,475.50 855.22,473.50 888.97,476.40 922.73,474.50 956.48,476.00 990.24,478.40 1023.99,476.00 1057.75,476.40 1091.50,478.90 1125.26,474.30 1159.01,477.40 1192.77,474.80 1226.52,478.40 1260.28,474.30 1294.04,479.20 1327.79,481.30 1361.55,477.40 1395.30,478.40 1429.06,478.90 1462.81,484.20 1496.57,476.90 1530.32,478.40 1564.08,476.40 1597.83,477.40 1631.59,481.30 1665.34,479.00 1699.10,479.00 1732.85,481.40 1766.61,479.30 1800.36,479.00 1834.12,482.40 1867.88,480.00 1901.63,478.50 1935.39,478.50 1969.14,480.50 2002.90,478.50 2036.65,479.30 2070.41,481.40 2104.16,481.40 2137.92,478.50 2171.67,479.30 2205.43,482.90 2239.18,480.50 2272.94,482.60 2306.69,482.60 2340.45,480.50 2374.20,482.60" fill="none" stroke="#000080" stroke-width="3.2" stroke-linejoin="miter"/>
<path d="M367.98 474.70L389.98 462.20L389.98 487.20Z" fill="#0000ff"/>
<path d="M401.73 474.30L423.73 461.80L423.73 486.80Z" fill="#0000ff"/>
<path d="M435.49 474.30L457.49 461.80L457.49 486.80Z" fill="#0000ff"/>
<path d="M469.24 472.90L491.24 460.40L491.24 485.40Z" fill="#0000ff"/>
<path d="M503.00 476.40L525.00 463.90L525.00 488.90Z" fill="#0000ff"/>
<path d="M536.75 474.50L558.75 462.00L558.75 487.00Z" fill="#0000ff"/>
<path d="M570.51 474.50L592.51 462.00L592.51 487.00Z" fill="#0000ff"/>
<path d="M604.26 474.50L626.26 462.00L626.26 487.00Z" fill="#0000ff"/>
<path d="M638.02 474.50L660.02 462.00L660.02 487.00Z" fill="#0000ff"/>
<path d="M671.77 473.70L693.77 461.20L693.77 486.20Z" fill="#0000ff"/>
<path d="M705.53 476.90L727.53 464.40L727.53 489.40Z" fill="#0000ff"/>
<path d="M739.28 472.90L761.28 460.40L761.28 485.40Z" fill="#0000ff"/>
<path d="M773.04 472.90L795.04 460.40L795.04 485.40Z" fill="#0000ff"/>
<path d="M806.79 475.50L828.79 463.00L828.79 488.00Z" fill="#0000ff"/>
<path d="M840.55 473.50L862.55 461.00L862.55 486.00Z" fill="#0000ff"/>
<path d="M874.31 476.40L896.31 463.90L896.31 488.90Z" fill="#0000ff"/>
<path d="M908.06 474.50L930.06 462.00L930.06 487.00Z" fill="#0000ff"/>
<path d="M941.82 476.00L963.82 463.50L963.82 488.50Z" fill="#0000ff"/>
<path d="M975.57 478.40L997.57 465.90L997.57 490.90Z" fill="#0000ff"/>
<path d="M1009.33 476.00L1031.33 463.50L1031.33 488.50Z" fill="#0000ff"/>
<path d="M1043.08 476.40L1065.08 463.90L1065.08 488.90Z" fill="#0000ff"/>
<path d="M1076.84 478.90L1098.84 466.40L1098.84 491.40Z" fill="#0000ff"/>
<path d="M1110.59 474.30L1132.59 461.80L1132.59 486.80Z" fill="#0000ff"/>
<path d="M1144.35 477.40L1166.35 464.90L1166.35 489.90Z" fill="#0000ff"/>
<path d="M1178.10 474.80L1200.10 462.30L1200.10 487.30Z" fill="#0000ff"/>
<path d="M1211.86 478.40L1233.86 465.90L1233.86 490.90Z" fill="#0000ff"/>
<path d="M1245.61 474.30L1267.61 461.80L1267.61 486.80Z" fill="#0000ff"/>
<path d="M1279.37 479.20L1301.37 466.70L1301.37 491.70Z" fill="#0000ff"/>
<path d="M1313.12 481.30L1335.12 468.80L1335.12 493.80Z" fill="#0000ff"/>
<path d="M1346.88 477.40L1368.88 464.90L1368.88 489.90Z" fill="#0000ff"/>
<path d="M1380.63 478.40L1402.63 465.90L1402.63 490.90Z" fill="#0000ff"/>
<path d="M1414.39 478.90L1436.39 466.40L1436.39 491.40Z" fill="#0000ff"/>
<path d="M1448.15 484.20L1470.15 471.70L1470.15 496.70Z" fill="#0000ff"/>
<path d="M1481.90 476.90L1503.90 464.40L1503.90 489.40Z" fill="#0000ff"/>
<path d="M1515.66 478.40L1537.66 465.90L1537.66 490.90Z" fill="#0000ff"/>
<path d="M1549.41 476.40L1571.41 463.90L1571.41 488.90Z" fill="#0000ff"/>
<path d="M1583.17 477.40L1605.17 464.90L1605.17 489.90Z" fill="#0000ff"/>
<path d="M1616.92 481.30L1638.92 468.80L1638.92 493.80Z" fill="#0000ff"/>
<path d="M1650.68 479.00L1672.68 466.50L1672.68 491.50Z" fill="#0000ff"/>
<path d="M1684.43 479.00L1706.43 466.50L1706.43 491.50Z" fill="#0000ff"/>
<path d="M1718.19 481.40L1740.19 468.90L1740.19 493.90Z" fill="#0000ff"/>
<path d="M1751.94 479.30L1773.94 466.80L1773.94 491.80Z" fill="#0000ff"/>
<path d="M1785.70 479.00L1807.70 466.50L1807.70 491.50Z" fill="#0000ff"/>
<path d="M1819.45 482.40L1841.45 469.90L1841.45 494.90Z" fill="#0000ff"/>
<path d="M1853.21 480.00L1875.21 467.50L1875.21 492.50Z" fill="#0000ff"/>
<path d="M1886.96 478.50L1908.96 466.00L1908.96 491.00Z" fill="#0000ff"/>
<path d="M1920.72 478.50L1942.72 466.00L1942.72 491.00Z" fill="#0000ff"/>
<path d="M1954.47 480.50L1976.47 468.00L1976.47 493.00Z" fill="#0000ff"/>
<path d="M1988.23 478.50L2010.23 466.00L2010.23 491.00Z" fill="#0000ff"/>
<path d="M2021.99 479.30L2043.99 466.80L2043.99 491.80Z" fill="#0000ff"/>
<path d="M2055.74 481.40L2077.74 468.90L2077.74 493.90Z" fill="#0000ff"/>
<path d="M2089.50 481.40L2111.50 468.90L2111.50 493.90Z" fill="#0000ff"/>
<path d="M2123.25 478.50L2145.25 466.00L2145.25 491.00Z" fill="#0000ff"/>
<path d="M2157.01 479.30L2179.01 466.80L2179.01 491.80Z" fill="#0000ff"/>
<path d="M2190.76 482.90L2212.76 470.40L2212.76 495.40Z" fill="#0000ff"/>
<path d="M2224.52 480.50L2246.52 468.00L2246.52 493.00Z" fill="#0000ff"/>
<path d="M2258.27 482.60L2280.27 470.10L2280.27 495.10Z" fill="#0000ff"/>
<path d="M2292.03 482.60L2314.03 470.10L2314.03 495.10Z" fill="#0000ff"/>
<path d="M2325.78 480.50L2347.78 468.00L2347.78 493.00Z" fill="#0000ff"/>
<path d="M2359.54 482.60L2381.54 470.10L2381.54 495.10Z" fill="#0000ff"/>
</g>
<g font-family='"Liberation Sans", Arial, Helvetica, sans-serif' font-size="74" fill="#000">
<text transform="translate(316 81.8) scale(1 1.04)" x="-123.46"><tspan dx="3.5">1</tspan><tspan dx="-3.5">0</tspan>0</text>
<text transform="translate(316 277.0) scale(1 1.04)" x="-82.31"><tspan dx="3.5">1</tspan><tspan dx="-3.5">0</tspan></text>
<text transform="translate(316 472.2) scale(1 1.04)" x="-41.15"><tspan dx="3.5">1</tspan></text>
<text transform="translate(316 667.4) scale(1 1.04)" x="-102.86">0.<tspan dx="3.5">1</tspan></text>
<text transform="translate(316 862.6) scale(1 1.04)" x="-144.01">0.0<tspan dx="3.5">1</tspan></text>
<text transform="translate(316 1057.8) scale(1 1.04)" x="-156.30"><tspan dx="3.5">1</tspan><tspan dx="-3.5">E</tspan>-3</text>
<text transform="translate(316 1253.0) scale(1 1.04)" x="-156.30"><tspan dx="3.5">1</tspan><tspan dx="-3.5">E</tspan>-4</text>
<text transform="translate(316 1448.2) scale(1 1.04)" x="-156.30"><tspan dx="3.5">1</tspan><tspan dx="-3.5">E</tspan>-5</text>
<text transform="translate(348.89 1655) scale(1 1.04)" text-anchor="middle">0</text>
<text transform="translate(517.66 1655) scale(1 1.04)" text-anchor="middle">5</text>
<text transform="translate(686.44 1655) scale(1 1.04)" x="-41.15"><tspan dx="3.5">1</tspan><tspan dx="-3.5">0</tspan></text>
<text transform="translate(855.22 1655) scale(1 1.04)" x="-41.15"><tspan dx="3.5">1</tspan><tspan dx="-3.5">5</tspan></text>
<text transform="translate(1023.99 1655) scale(1 1.04)" text-anchor="middle">20</text>
<text transform="translate(1192.77 1655) scale(1 1.04)" text-anchor="middle">25</text>
<text transform="translate(1361.55 1655) scale(1 1.04)" text-anchor="middle">30</text>
<text transform="translate(1530.32 1655) scale(1 1.04)" text-anchor="middle">35</text>
<text transform="translate(1699.10 1655) scale(1 1.04)" text-anchor="middle">40</text>
<text transform="translate(1867.88 1655) scale(1 1.04)" text-anchor="middle">45</text>
<text transform="translate(2036.65 1655) scale(1 1.04)" text-anchor="middle">50</text>
<text transform="translate(2205.43 1655) scale(1 1.04)" text-anchor="middle">55</text>
<text transform="translate(2374.20 1655) scale(1 1.04)" text-anchor="middle">60</text>
</g>
<text font-family='"Liberation Sans", Arial, Helvetica, sans-serif' font-size="81" transform="translate(1377.5 1772) scale(1 1.04)" text-anchor="middle">Time (min)</text>
<text font-family='"Liberation Sans", Arial, Helvetica, sans-serif' font-size="81" transform="translate(80.5 760.7) rotate(-90) scale(1 1.04)" text-anchor="middle">Storage and Loss Moduli (Pa)</text>
<rect x="393.5" y="100.5" width="1735" height="180.5" fill="none" stroke="#000" stroke-width="3" shape-rendering="crispEdges"/>
<g shape-rendering="crispEdges">
<rect x="444" y="149.6" width="150.0" height="3.2" fill="#ff00ff"/>
<rect x="509.30" y="142.20" width="19" height="18" fill="#ff00ff"/>
<rect x="1008" y="149.6" width="150.0" height="3.2" fill="#00ff00"/>
<circle cx="1082.70" cy="151.20" r="10.5" fill="#00ff00"/>
<rect x="1572" y="149.6" width="150.0" height="3.2" fill="#0000ff"/>
<path d="M1647.00 136.53L1659.50 158.53L1634.50 158.53Z" fill="#0000ff"/>
<rect x="444" y="240.6" width="150.0" height="3.2" fill="#ff00ff"/>
<path d="M506.50 234.87L531.50 234.87L519.00 256.87Z" fill="#ff00ff"/>
<rect x="1000.3" y="240.6" width="148.3" height="3.2" fill="#00ff00"/>
<path d="M1074.90 228.60L1087.70 242.20L1074.90 255.80L1062.10 242.20Z" fill="#00ff00"/>
<rect x="1576" y="240.6" width="149.0" height="3.2" fill="#000080"/>
<path d="M1636.33 242.20L1658.33 229.70L1658.33 254.70Z" fill="#0000ff"/>
</g>
<g font-family='"Liberation Sans", Arial, Helvetica, sans-serif' font-size="74" fill="#000">
<text transform="translate(613 174.3) scale(1 1.04)" x="0.00" xml:space="preserve">0.<tspan dx="3.5">1</tspan><tspan dx="-3.5"> </tspan>wt% <tspan font-style="italic">G′</tspan></text>
<text transform="translate(1177 174.3) scale(1 1.04)" text-anchor="start" xml:space="preserve">0.2 wt% <tspan font-style="italic">G′</tspan></text>
<text transform="translate(1741.6 174.3) scale(1 1.04)" text-anchor="start" xml:space="preserve">0.3 wt% <tspan font-style="italic">G′</tspan></text>
<text transform="translate(613 264.7) scale(1 1.04)" x="0.00" xml:space="preserve">0.<tspan dx="3.5">1</tspan><tspan dx="-3.5"> </tspan>wt% <tspan font-style="italic">G″</tspan></text>
<text transform="translate(1168.4 264.7) scale(1 1.04)" text-anchor="start" xml:space="preserve">0.2 wt% <tspan font-style="italic">G″</tspan></text>
<text transform="translate(1745 264.7) scale(1 1.04)" text-anchor="start" xml:space="preserve">0.3 wt% <tspan font-style="italic">G″</tspan></text>
</g>
<g fill="#ffffff">
<g transform="translate(316 81.8) scale(1 1.04)"><rect x="-115.82" y="-7.13" width="14.47" height="8.53"/><rect x="-94.81" y="-7.13" width="13.89" height="8.53"/></g>
<g transform="translate(316 277.0) scale(1 1.04)"><rect x="-74.67" y="-7.13" width="14.47" height="8.53"/><rect x="-53.66" y="-7.13" width="13.89" height="8.53"/></g>
<g transform="translate(316 472.2) scale(1 1.04)"><rect x="-33.52" y="-7.13" width="14.47" height="8.53"/><rect x="-12.50" y="-7.13" width="13.89" height="8.53"/></g>
<g transform="translate(316 667.4) scale(1 1.04)"><rect x="-33.53" y="-7.13" width="14.47" height="8.53"/><rect x="-12.52" y="-7.13" width="13.89" height="8.53"/></g>
<g transform="translate(316 862.6) scale(1 1.04)"><rect x="-33.53" y="-7.13" width="14.47" height="8.53"/><rect x="-12.52" y="-7.13" width="13.89" height="8.53"/></g>
<g transform="translate(316 1057.8) scale(1 1.04)"><rect x="-148.66" y="-7.13" width="14.47" height="8.53"/><rect x="-127.65" y="-7.13" width="13.89" height="8.53"/></g>
<g transform="translate(316 1253.0) scale(1 1.04)"><rect x="-148.66" y="-7.13" width="14.47" height="8.53"/><rect x="-127.65" y="-7.13" width="13.89" height="8.53"/></g>
<g transform="translate(316 1448.2) scale(1 1.04)"><rect x="-148.66" y="-7.13" width="14.47" height="8.53"/><rect x="-127.65" y="-7.13" width="13.89" height="8.53"/></g>
<g transform="translate(686.44 1655) scale(1 1.04)"><rect x="-33.52" y="-7.13" width="14.47" height="8.53"/><rect x="-12.50" y="-7.13" width="13.89" height="8.53"/></g>
<g transform="translate(855.22 1655) scale(1 1.04)"><rect x="-33.52" y="-7.13" width="14.47" height="8.53"/><rect x="-12.50" y="-7.13" width="13.89" height="8.53"/></g>
<g transform="translate(613 174.3) scale(1 1.04)"><rect x="69.33" y="-7.13" width="14.47" height="8.53"/><rect x="90.34" y="-7.13" width="13.89" height="8.53"/></g>
<g transform="translate(613 264.7) scale(1 1.04)"><rect x="69.33" y="-7.13" width="14.47" height="8.53"/><rect x="90.34" y="-7.13" width="13.89" height="8.53"/></g>
</g>
</svg>
</body></html>
